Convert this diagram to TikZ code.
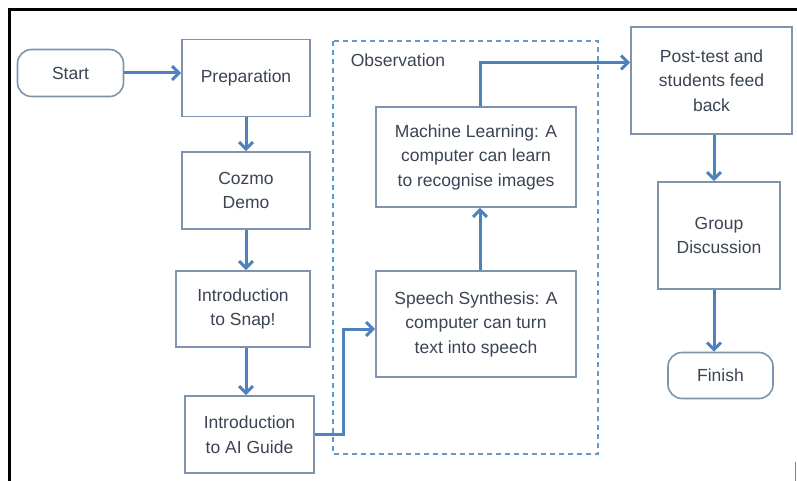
\documentclass[tikz,border=0pt]{standalone}
\usepackage{fontspec}
\setmainfont{Liberation Sans}
\usepackage{xcolor}
\usetikzlibrary{arrows.meta}
\definecolor{flowblue}{HTML}{4F81BD}
\definecolor{boxgray}{HTML}{7F93AD}
\definecolor{obsblue}{HTML}{5B9BD5}
\definecolor{inkgray}{HTML}{3B4454}

\begin{document}
\begin{tikzpicture}[x=1pt,y=-1pt,->,>={Straight Barb[length=7pt,width=14pt]},line width=3pt]
    \tikzset{stepbox/.style={draw=boxgray,line width=1.6pt,fill=white,align=center,text=inkgray,font=\fontsize{17.5}{24.5}\selectfont,inner sep=0pt}}
    \tikzset{endbox/.style={stepbox,rounded corners=14pt}}
    \tikzset{flow/.style={draw=flowblue,line width=3pt}}

    \useasboundingbox (0,0) rectangle (797,481);
    \draw[-,black] (9,481) -- (9,10) -- (797,10);
    \draw[-,gray,line width=1pt] (795,462) -- (795,481);

    \draw[-,obsblue,line width=2pt,dash pattern=on 5pt off 4pt] (333,41) rectangle (598,454);
    \node[anchor=west,text=inkgray,font=\fontsize{17.5}{24.5}\selectfont] (obs) at (346,60) {Observation};

    \node[endbox,minimum width=106pt,minimum height=47pt] (start) at (70.5,73) {Start};
    \node[stepbox,minimum width=128pt,minimum height=77pt] (prep) at (246,78) {Preparation};
    \node[stepbox,minimum width=128pt,minimum height=77pt] (cozmo) at (246,190.5) {Cozmo\\Demo};
    \node[stepbox,minimum width=134pt,minimum height=76pt] (snap) at (243,309) {Introduction\\to Snap!};
    \node[stepbox,minimum width=129pt,minimum height=77pt] (guide) at (249.5,434.5) {Introduction\\to AI Guide};
    \node[stepbox,minimum width=200pt,minimum height=100pt] (ml) at (476,157) {Machine Learning: A\\computer can learn\\to recognise images};
    \node[stepbox,minimum width=200pt,minimum height=106pt] (speech) at (476,324) {Speech Synthesis: A\\computer can turn\\text into speech};
    \node[stepbox,minimum width=161pt,minimum height=107pt] (post) at (711.5,80.5) {Post-test and\\students feed\\back};
    \node[stepbox,minimum width=122pt,minimum height=107pt] (group) at (719,235.5) {Group\\Discussion};
    \node[endbox,minimum width=105pt,minimum height=46pt] (finish) at (720.5,375.5) {Finish};
    \coordinate (turn) at (343,329);

    \draw[flow] (start.east) -- (start.east -| prep.west);
    \draw[flow] (prep.south) -- (cozmo.north);
    \draw[flow] (cozmo.south) -- (cozmo.south |- snap.north);
    \draw[flow] (cozmo.south |- snap.south) -- (cozmo.south |- guide.north);
    \draw[flow] (guide.east) -| (turn) -- (turn -| speech.west);
    \draw[flow] ([xshift=4pt]speech.north) -- ([xshift=4pt]ml.south);
    \draw[flow] ([xshift=4pt]ml.north) |- ([yshift=18pt]post.west);
    \draw[flow] ([xshift=2.5pt]post.south) -- ([xshift=2.5pt]post.south |- group.north);
    \draw[flow] ([xshift=2.5pt]post.south |- group.south) -- ([xshift=2.5pt]post.south |- finish.north);
\end{tikzpicture}
\end{document}
